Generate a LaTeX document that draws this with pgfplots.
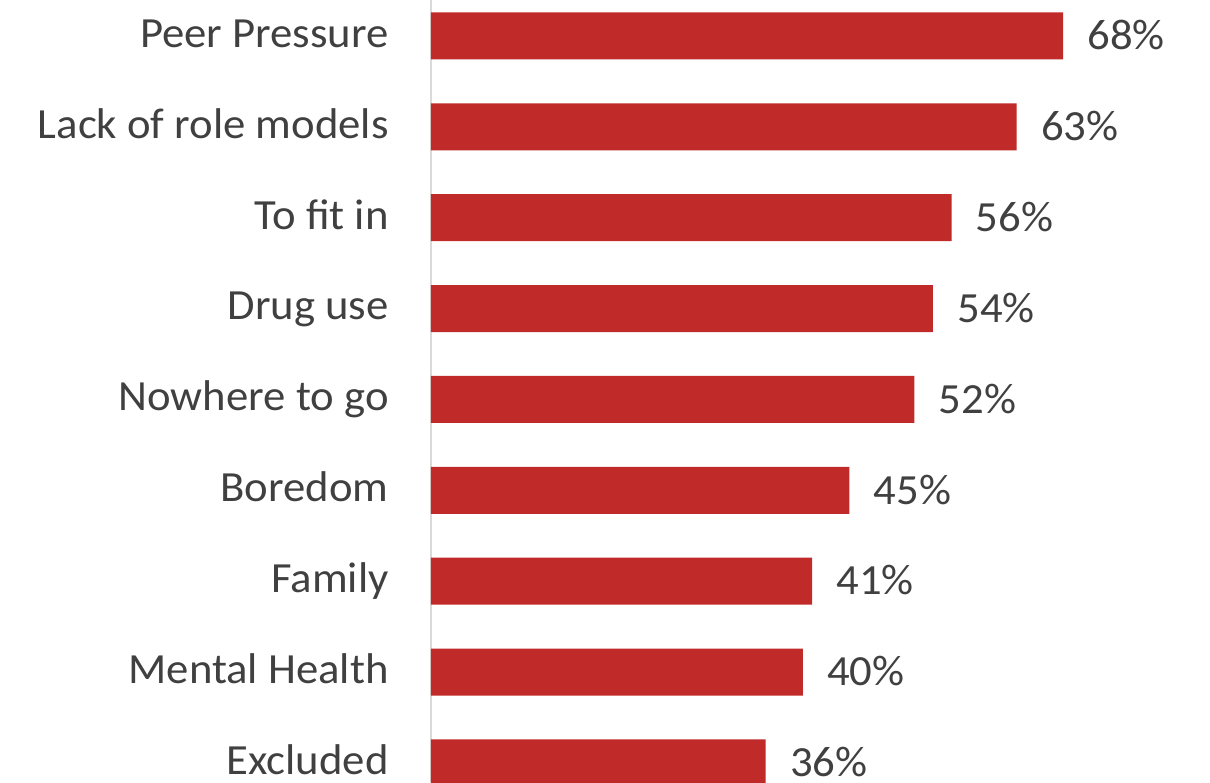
\documentclass[border=0pt]{standalone}
\usepackage{fontspec}
\setmainfont[FakeStretch=1.04]{Carlito}
\usepackage{pgfplots}
\pgfplotsset{compat=1.18}
\definecolor{barred}{RGB}{192,42,40}
\definecolor{txt}{RGB}{64,64,64}
\definecolor{axgray}{RGB}{217,217,217}
\begin{document}
\begin{tikzpicture}
\useasboundingbox (-215.5pt,0pt) rectangle (389.5pt,391pt);
\begin{axis}[
  at={(0pt,0pt)}, anchor=south west,
  scale only axis,
  width=389.5pt, height=391pt,
  xbar, bar width=23.5pt,
  xmin=0, xmax=83.8,
  ymin=-0.21, ymax=8.396,
  axis x line=none,
  axis y line=left,
  y axis line style={-, draw=axgray, line width=1pt},
  ytick={0,1,2,3,4,5,6,7,8},
  yticklabels={Excluded,Mental Health,Family,Boredom,Nowhere to go,Drug use,To fit in,Lack of role models,Peer Pressure},
  major tick length=0pt,
  /pgf/number format/assume math mode=true,
  yticklabel style={anchor=east, inner sep=0pt, text height=13.8pt, text depth=0pt,
    xshift=-21pt, yshift=1.2pt, font=\fontsize{21.5}{25}\selectfont, text=txt},
  nodes near coords={\pgfmathprintnumber{\pgfplotspointmeta}\%},
  every node near coord/.append style={anchor=west, inner sep=0pt, text height=13.8pt, text depth=0pt,
    xshift=12pt, font=\fontsize{21.5}{25}\selectfont, text=txt},
  point meta=x,
]
\addplot[fill=barred, draw=none] coordinates {
 (36,0) (40,1) (41,2) (45,3) (52,4) (54,5) (56,6) (63,7) (68,8)
};
\end{axis}
\end{tikzpicture}
\end{document}
